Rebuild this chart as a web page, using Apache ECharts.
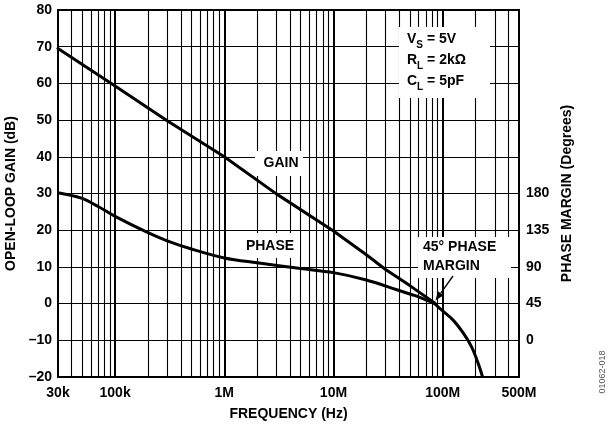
<!DOCTYPE html>
<html>
<head>
<meta charset="utf-8">
<script src="https://cdn.jsdelivr.net/npm/echarts@6/dist/echarts.min.js"></script>
<style>html,body{margin:0;padding:0;background:#fff}#c{width:613px;height:428px}</style>
</head>
<body>
<div id="c"></div>
<script>
// ---- data ----
const gainFreq = [3e4, 1e5, 3e5, 1e6, 3e6, 1e7, 2e7, 3e7, 5e7, 8.5e7];
const gainDb   = [69.5, 59.3, 49.8, 40.0, 29.9, 19.8, 13.3, 9.3, 4.9, 0.1];
const phaseFreq = [3e4, 5e4, 7e4, 1e5, 2e5, 3e5, 5e5, 1e6, 2e6, 5e6, 1e7, 2e7, 3.8e7, 5.5e7, 7e7, 8.5e7, 9.4e7, 1.24e8, 1.54e8, 1.84e8, 2.11e8, 2.32e8];
const phaseDeg  = [181, 174, 164, 152, 132, 122, 112, 101, 95, 88, 83, 74, 62, 55, 49.5, 44.5, 39, 25, 9, -8, -28, -45];
const xTickValues = [3e4, 1e5, 1e6, 1e7, 1e8, 5e8];
const xTickLabels = ['30k', '100k', '1M', '10M', '100M', '500M'];
const phaseTickValues = [0, 45, 90, 135, 180];
const majorGrid = [1e5, 1e6, 1e7, 1e8];
const minorGrid = [4e4,5e4,6e4,7e4,8e4,9e4, 2e5,3e5,4e5,5e5,6e5,7e5,8e5,9e5, 2e6,3e6,4e6,5e6,6e6,7e6,8e6,9e6, 2e7,3e7,4e7,5e7,6e7,7e7,8e7,9e7, 2e8,3e8,4e8];

const FONT = '"Liberation Sans", Arial, sans-serif';
const txt = {fontFamily: FONT, fontWeight: 'bold', fontSize: 14, color: '#000'};

const chart = echarts.init(document.getElementById('c'), null, {renderer: 'canvas'});

const gridLines = majorGrid.map(f => ({xAxis: f, lineStyle: {width: 2}}))
  .concat(minorGrid.map(f => ({xAxis: f, lineStyle: {width: 1.1}})));

chart.setOption({
  animation: false,
  backgroundColor: '#fff',
  grid: {left: 58, right: 94, top: 10, bottom: 51, show: true, borderColor: '#000', borderWidth: 2, backgroundColor: '#fff', containLabel: false, outerBoundsMode: 'none'},
  xAxis: {
    type: 'log', logBase: 10, min: 3e4, max: 5e8,
    name: 'FREQUENCY (Hz)', nameLocation: 'middle', nameGap: 30,
    nameTextStyle: txt,
    axisLine: {show: false}, axisTick: {show: false},
    splitLine: {show: false}, minorSplitLine: {show: false},
    axisLabel: Object.assign({}, txt, {
      margin: 9,
      customValues: xTickValues,
      showMinLabel: true, showMaxLabel: true,
      formatter: v => { const i = xTickValues.findIndex(t => Math.abs(t - v) / t < 1e-6); return i >= 0 ? xTickLabels[i] : ''; }
    })
  },
  yAxis: [{
    type: 'value', min: -20, max: 80, interval: 10,
    name: 'OPEN-LOOP GAIN (dB)', nameLocation: 'middle', nameGap: 34, nameRotate: 90,
    nameTextStyle: txt,
    axisLine: {show: false}, axisTick: {show: false},
    splitLine: {show: true, lineStyle: {color: '#000', width: 1.1}},
    axisLabel: Object.assign({}, txt, {margin: 6, formatter: v => v < 0 ? '\u2013' + Math.abs(v) : String(v)})
  }, {
    type: 'value', min: -45, max: 405, interval: 45, position: 'right',
    name: 'PHASE MARGIN (Degrees)', nameLocation: 'middle', nameGap: 41, nameRotate: 90,
    nameTextStyle: txt,
    axisLine: {show: false}, axisTick: {show: false}, splitLine: {show: false},
    axisLabel: Object.assign({}, txt, {margin: 7, customValues: phaseTickValues, formatter: v => String(v)})
  }],
  series: [{
    type: 'line', data: [], z: 1, silent: true,
    markLine: {silent: true, symbol: ['none', 'none'], label: {show: false},
      lineStyle: {color: '#000', type: 'solid', width: 1}, data: gridLines, animation: false}
  }, {
    name: 'gain', type: 'line', z: 5, yAxisIndex: 0, showSymbol: false, smooth: false,
    lineStyle: {color: '#000', width: 3, join: 'round', cap: 'round'},
    data: gainFreq.map((f, i) => [f, gainDb[i]])
  }, {
    name: 'phase', type: 'line', z: 5, yAxisIndex: 1, showSymbol: false, smooth: 0.35,
    lineStyle: {color: '#000', width: 3, join: 'round'},
    data: phaseFreq.map((f, i) => [f, phaseDeg[i]])
  }],
  graphic: [
    {type: 'rect', shape: {x: 255, y: 151, width: 48, height: 25}, style: {fill: '#fff'}, z: 50},
    {type: 'text', x: 281, y: 163, style: {text: 'GAIN', fill: '#000', font: 'bold 14px ' + FONT, align: 'center', verticalAlign: 'middle'}, z: 51},
    {type: 'rect', shape: {x: 240, y: 233, width: 60, height: 25}, style: {fill: '#fff'}, z: 50},
    {type: 'text', x: 270, y: 246, style: {text: 'PHASE', fill: '#000', font: 'bold 14px ' + FONT, align: 'center', verticalAlign: 'middle'}, z: 51},
    {type: 'rect', shape: {x: 418, y: 237, width: 93, height: 41}, style: {fill: '#fff'}, z: 50},
    {type: 'text', x: 423, y: 238, style: {text: '45\u00b0 PHASE\nMARGIN', fill: '#000', font: 'bold 14px ' + FONT, lineHeight: 19, align: 'left', verticalAlign: 'top'}, z: 51},
    {type: 'rect', shape: {x: 399, y: 27, width: 91, height: 71}, style: {fill: '#fff'}, z: 50},
    {type: 'text', x: 407, y: 29, z: 51, style: {
      text: '{b|V}{s|S}{b| = 5V}\n{b|R}{s|L}{b| = 2k\u03a9}\n{b|C}{s|L}{b| = 5pF}',
      align: 'left', verticalAlign: 'top',
      rich: {
        b: {fontFamily: FONT, fontWeight: 'bold', fontSize: 14, lineHeight: 21, fill: '#000', color: '#000'},
        s: {fontFamily: FONT, fontWeight: 'bold', fontSize: 10, lineHeight: 13, verticalAlign: 'bottom', fill: '#000', color: '#000'}
      }
    }},
    {type: 'line', shape: {x1: 453, y1: 276, x2: 440.8, y2: 293.2}, style: {stroke: '#000', lineWidth: 1.3}, z: 52},
    {type: 'polygon', shape: {points: [[435.5, 300.5], [443.6, 295.2], [437.9, 291.2]]}, style: {fill: '#000'}, z: 52},
    {type: 'text', x: 603, y: 372, rotation: Math.PI / 2, style: {text: '01062-018', fill: '#555', font: '9px ' + FONT, align: 'center', verticalAlign: 'middle'}, z: 51}
  ]
});
</script>
</body>
</html>
